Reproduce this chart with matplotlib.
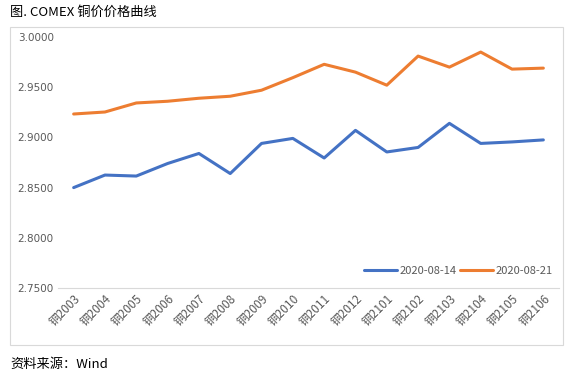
import matplotlib
matplotlib.use("Agg")
import matplotlib.pyplot as plt
from matplotlib.patches import Rectangle

plt.rcParams["font.family"] = ["Noto Sans CJK SC", "DejaVu Sans"]

contracts = ["铜2003", "铜2004", "铜2005", "铜2006", "铜2007", "铜2008", "铜2009", "铜2010",
             "铜2011", "铜2012", "铜2101", "铜2102", "铜2103", "铜2104", "铜2105", "铜2106"]
price_0814 = [2.850, 2.8625, 2.8615, 2.874, 2.884, 2.864, 2.894, 2.899,
              2.8795, 2.907, 2.8855, 2.890, 2.914, 2.894, 2.8955, 2.8975]
price_0821 = [2.9233, 2.9253, 2.9343, 2.936, 2.939, 2.941, 2.947, 2.9595,
              2.9728, 2.965, 2.952, 2.981, 2.970, 2.985, 2.968, 2.969]
yticks = [2.75, 2.80, 2.85, 2.90, 2.95, 3.00]

BLUE = "#4472c4"
ORANGE = "#ed7d31"
GREY = "#595959"

fig = plt.figure(figsize=(5.65, 3.77), dpi=100)
fig.patch.set_facecolor("white")

# outer chart frame
fig.add_artist(Rectangle((10 / 565, 1 - 345 / 377), 553 / 565, 318 / 377,
                         transform=fig.transFigure, fill=False, ec="#d9d9d9", lw=0.8))

ax = fig.add_axes([58 / 565, 1 - 288 / 377, 501 / 565, 251 / 377])
x = range(len(contracts))
ax.plot(x, price_0814, color=BLUE, lw=2.2, label="2020-08-14", solid_capstyle="round")
ax.plot(x, price_0821, color=ORANGE, lw=2.2, label="2020-08-21", solid_capstyle="round")

ax.set_ylim(2.75, 3.0)
ax.set_xlim(-0.5, len(contracts) - 0.5)
ax.set_yticks(yticks)
ax.set_yticklabels([f"{v:.4f}" for v in yticks], fontsize=7.5, color=GREY,
                   family=["DejaVu Sans"])
ax.set_xticks(list(x))
ax.set_xticklabels(contracts, rotation=45, ha="right", rotation_mode="anchor",
                   fontsize=8.5, color=GREY)
ax.tick_params(length=0, pad=3)
for s in ("top", "right", "left"):
    ax.spines[s].set_visible(False)
ax.spines["bottom"].set_color("#d9d9d9")
ax.spines["bottom"].set_linewidth(0.8)
ax.set_facecolor("none")

leg = ax.legend(loc="lower right", bbox_to_anchor=(1.0, 0.02), ncol=2, frameon=False,
                fontsize=8, handlelength=3.0, handletextpad=0.2, columnspacing=0.3,
                borderaxespad=0.2)
for t in leg.get_texts():
    t.set_color(GREY)

fig.text(10 / 565, 1 - 12 / 377, "图. COMEX 铜价价格曲线", fontsize=9.5, color="black",
         va="center", ha="left")
fig.text(10 / 565, 1 - 364 / 377, "资料来源：Wind", fontsize=9.5, color="black",
         va="center", ha="left")

fig.savefig("out.png", facecolor="white")
